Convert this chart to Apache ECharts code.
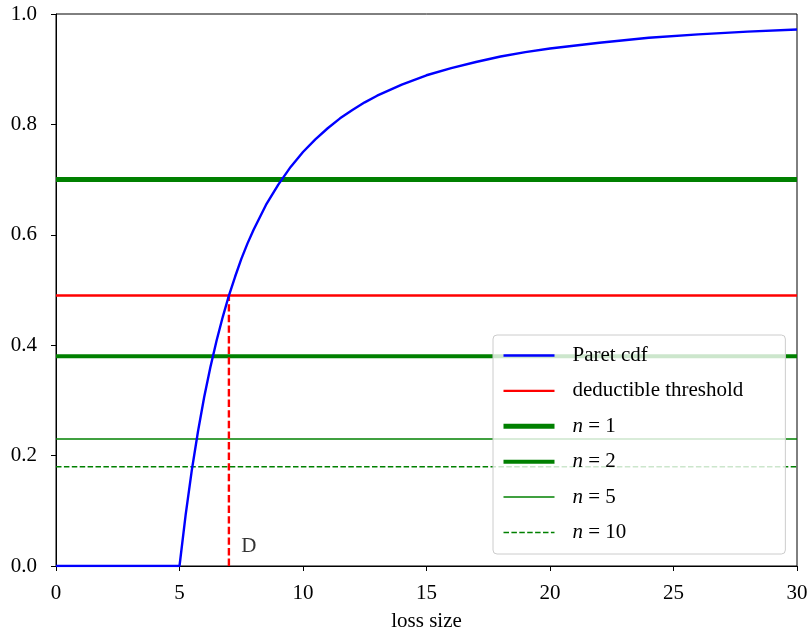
<!DOCTYPE html>
<html><head><meta charset="utf-8">
<script src="https://cdn.jsdelivr.net/npm/echarts@6/dist/echarts.min.js"></script>
<style>html,body{margin:0;padding:0;background:#fff}#c{width:809px;height:633px}</style>
</head><body><div id="c"></div>
<script>
// Pareto cdf values
const cdfX = [0, 5, 5.25, 5.5, 5.75, 6, 6.25, 6.5, 6.75, 7, 7.25, 7.5, 7.75, 8, 8.5, 9, 9.5, 10, 10.5, 11, 11.5, 12, 12.5, 13, 14, 15, 16, 17, 18, 19, 20, 22, 24, 26, 28, 30];
const cdfY = [0, 0, 0.093, 0.174, 0.244, 0.306, 0.360, 0.408, 0.451, 0.490, 0.524, 0.556, 0.584, 0.609, 0.654, 0.691, 0.723, 0.750, 0.773, 0.793, 0.811, 0.826, 0.840, 0.852, 0.872, 0.889, 0.902, 0.913, 0.923, 0.931, 0.9375, 0.948, 0.957, 0.963, 0.968, 0.972];
const deductible = 0.49;
const deductibleX = 7;
const nLevels = [1, 2, 5, 10];
const nValues = [0.70, 0.38, 0.23, 0.18];
const xTicks = [0, 5, 10, 15, 20, 25, 30];
const yTicks = [0.0, 0.2, 0.4, 0.6, 0.8, 1.0];
const xRange = [0, 30];

const FONT = 'Liberation Serif';
const nWidths = [5, 4, 1.5, 1.5];
const nTypes = ['solid', 'solid', 'solid', [5.5, 2.4]];

const series = [
  {
    name: 'Paret cdf', type: 'line', symbol: 'none', z: 5,
    data: cdfX.map((x, i) => [x, cdfY[i]]),
    lineStyle: { color: '#0000ff', width: 2.4 }, itemStyle: { color: '#0000ff' }
  },
  {
    name: 'deductible threshold', type: 'line', symbol: 'none', z: 3,
    data: [[xRange[0], deductible], [xRange[1], deductible]],
    lineStyle: { color: '#ff0000', width: 2.4 }, itemStyle: { color: '#ff0000' }
  }
];
nLevels.forEach((n, i) => {
  series.push({
    name: 'n = ' + n, type: 'line', symbol: 'none', z: 3,
    data: [[xRange[0], nValues[i]], [xRange[1], nValues[i]]],
    lineStyle: { color: '#008000', width: nWidths[i], type: nTypes[i] },
    itemStyle: { color: '#008000' }
  });
});
series.push({
  name: 'D-line', type: 'line', symbol: 'none', z: 4,
  data: [[deductibleX, 0], [deductibleX, deductible]],
  lineStyle: { color: '#ff0000', width: 2.4, type: [7.4, 3.2] }
});
series.push({
  name: 'D-label', type: 'scatter', symbolSize: 0, z: 6,
  data: [[deductibleX + 0.5, 0.035]],
  label: { show: true, formatter: 'D', position: 'right', distance: 0, fontFamily: FONT, fontSize: 21, color: '#000' }
});

const legendData = [
  { name: 'Paret cdf', lineStyle: { width: 2.4, color: '#0000ff', type: 'solid' } },
  { name: 'deductible threshold', lineStyle: { width: 2.4, color: '#ff0000', type: 'solid' } }
].concat(nLevels.map((n, i) => ({
  name: 'n = ' + n, lineStyle: { width: nWidths[i], color: '#008000', type: nTypes[i] }
})));

const chart = echarts.init(document.getElementById('c'), null, { renderer: 'canvas' });
chart.setOption({
  animation: false,
  backgroundColor: '#fff',
  grid: { left: 56, right: 12, top: 14, bottom: 67, show: true, borderColor: '#000', borderWidth: 1,
          containLabel: false, outerBoundsMode: 'none' },
  xAxis: {
    type: 'value', min: 0, max: 30, interval: 5,
    name: 'loss size', nameLocation: 'middle', nameGap: 45,
    nameTextStyle: { fontFamily: FONT, fontSize: 21, color: '#000' },
    axisLine: { lineStyle: { color: '#000', width: 1 } },
    axisTick: { show: true, length: 5, lineStyle: { color: '#000' } },
    axisLabel: { fontFamily: FONT, fontSize: 21, color: '#000', margin: 17 },
    splitLine: { show: false }
  },
  yAxis: {
    type: 'value', min: 0, max: 1, interval: 0.2,
    axisLine: { show: true, lineStyle: { color: '#000', width: 1 } },
    axisTick: { show: true, length: 5, lineStyle: { color: '#000' } },
    axisLabel: { fontFamily: FONT, fontSize: 21, color: '#000', margin: 19, formatter: v => v.toFixed(1) },
    splitLine: { show: false }
  },
  legend: {
    data: legendData,
    orient: 'vertical', left: 493, top: 335,
    itemWidth: 51, itemHeight: 14, itemGap: 14.4,
    padding: [10, 42, 11, 8],
    backgroundColor: 'rgba(255,255,255,0.8)', borderColor: '#cccccc', borderWidth: 1, borderRadius: 4,
    itemStyle: { opacity: 0 },
    formatter: name => name.startsWith('n = ') ? '{i|n} = ' + name.slice(4) : name,
    textStyle: {
      fontFamily: FONT, fontSize: 21, color: '#000', padding: [0, 0, 0, 13],
      rich: { i: { fontFamily: FONT, fontStyle: 'italic', fontSize: 21, color: '#000' } }
    }
  },
  series: series
});
</script></body></html>
